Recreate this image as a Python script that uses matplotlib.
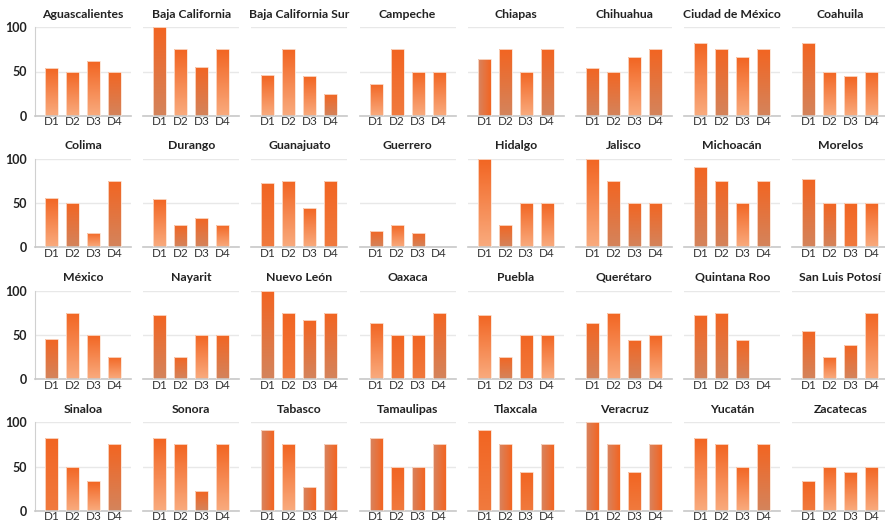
import numpy as np
import matplotlib.pyplot as plt
from matplotlib.colors import LinearSegmentedColormap

states = ["Aguascalientes", "Baja California", "Baja California Sur", "Campeche",
          "Chiapas", "Chihuahua", "Ciudad de México", "Coahuila",
          "Colima", "Durango", "Guanajuato", "Guerrero",
          "Hidalgo", "Jalisco", "Michoacán", "Morelos",
          "México", "Nayarit", "Nuevo León", "Oaxaca",
          "Puebla", "Querétaro", "Quintana Roo", "San Luis Potosí",
          "Sinaloa", "Sonora", "Tabasco", "Tamaulipas",
          "Tlaxcala", "Veracruz", "Yucatán", "Zacatecas"]
groups = ["D1", "D2", "D3", "D4"]

values = [
    [54.5, 50, 61.5, 50], [100, 75, 55.6, 75], [45.5, 75, 44.4, 25], [36.4, 75, 50, 50],
    [63.6, 75, 50, 75], [54.5, 50, 66.7, 75], [81.8, 75, 66.7, 75], [81.8, 50, 44.4, 50],
    [55.6, 50, 16.7, 75], [54.5, 25, 33.3, 25], [72.7, 75, 44.4, 75], [18.2, 25, 16.7, 0],
    [100, 25, 50, 50], [100, 75, 50, 50], [90.9, 75, 50, 75], [77.8, 50, 50, 50],
    [45.5, 75, 50, 25], [72.7, 25, 50, 50], [100, 75, 66.7, 75], [63.6, 50, 50, 75],
    [72.7, 25, 50, 50], [63.6, 75, 44.4, 50], [72.7, 75, 44.4, 0], [54.5, 25, 38.9, 75],
    [81.8, 50, 33.3, 75], [81.8, 75, 22.2, 75], [90.9, 75, 27.3, 75], [81.8, 50, 50, 75],
    [90.9, 75, 43.8, 75], [100, 75, 43.8, 75], [81.8, 75, 50, 75], [33.3, 50, 43.8, 50],
]

# gradient kind for every bar: v = orange->peach, b = orange->brown, o = flat-ish, h = sideways
fills = ["vvvb", "bvbv", "vvvb", "vovv", "hbvb", "bbvb", "vbvb", "bvvv",
         "vbvb", "vbbv", "ovvo", "bvbv", "vbvv", "vbbb", "bbvb", "bbov",
         "bvvv", "bbvb", "bobb", "voob", "vbov", "bvbv", "bbbv", "bvbv",
         "ovvb", "vvbv", "hvhh", "hohh", "ohoh", "hhoh", "vvvb", "ovvv"]

ORANGE = "#f26522"
cmaps = {
    "v": LinearSegmentedColormap.from_list("v", ["#f9ab7e", ORANGE]),
    "b": LinearSegmentedColormap.from_list("b", ["#d4845c", ORANGE]),
    "o": LinearSegmentedColormap.from_list("o", ["#f07a3e", ORANGE]),
    "h": LinearSegmentedColormap.from_list("h", ["#d88460", ORANGE]),
}
vgrad = np.linspace(0, 1, 64).reshape(-1, 1)
hgrad = np.linspace(0, 1, 64).reshape(1, -1)

W, H = 885, 522
fig = plt.figure(figsize=(W / 100, H / 100), dpi=100)
plt.rcParams["font.family"] = ["Lato", "DejaVu Sans"]

col_x = [35 + 108.2 * i for i in range(8)]
row_top = [27.3, 159.0, 290.7, 422.3]
ax_w, ax_h = 96, 88.4
x = np.arange(len(groups))

for k, name in enumerate(states):
    r, c = divmod(k, 8)
    ax = fig.add_axes([col_x[c] / W, 1 - (row_top[r] + ax_h) / H, ax_w / W, ax_h / H])
    bars = ax.bar(x, values[k], width=0.62, color="none", edgecolor="#fbe0d0", linewidth=0.6, zorder=3)
    for b, kind in zip(bars, fills[k]):
        x0, y0 = b.get_x(), b.get_y()
        bw, bh = b.get_width(), b.get_height()
        if bh <= 0:
            continue
        img = hgrad if kind == "h" else vgrad
        im = ax.imshow(img, cmap=cmaps[kind], origin="lower", aspect="auto",
                       extent=[x0, x0 + bw, y0, y0 + bh], zorder=2)
        im.set_clip_path(b)
    ax.set_xlim(-0.79, 3.79)
    ax.set_ylim(0, 100)
    ax.set_xticks(x)
    ax.set_xticklabels(groups, fontsize=8.5, color="#333333")
    ax.tick_params(axis="x", length=0, pad=0.5)
    ax.set_yticks([0, 50, 100])
    ax.grid(axis="y", color="#e8e8e8", linewidth=1, zorder=0)
    ax.set_axisbelow(True)
    for s in ["top", "right"]:
        ax.spines[s].set_visible(False)
    ax.spines["bottom"].set_color("#c8c8c8")
    ax.spines["bottom"].set_linewidth(1.2)
    if c == 0:
        ax.spines["left"].set_color("#d0d0d0")
        ax.tick_params(axis="y", length=0, pad=6, labelsize=9)
        for t in ax.get_yticklabels():
            t.set_fontweight("bold")
            t.set_color("#222222")
    else:
        ax.spines["left"].set_visible(False)
        ax.tick_params(axis="y", length=0, labelleft=False)
    ax.set_title(name, fontsize=8.8, fontweight="bold", color="#222222", pad=7)

fig.savefig("out.png", dpi=100)
